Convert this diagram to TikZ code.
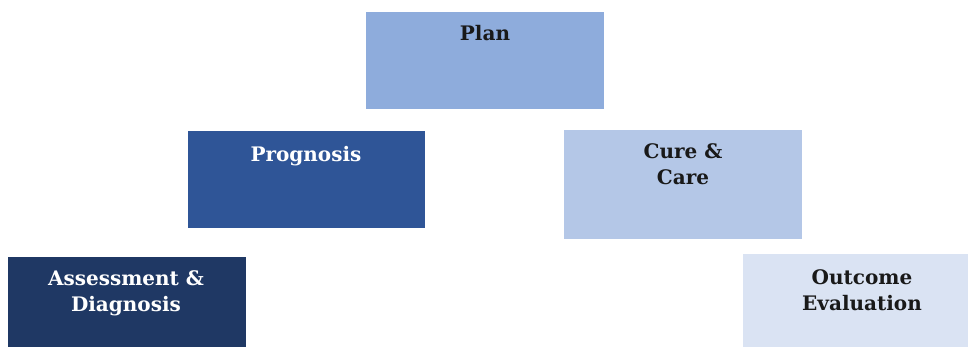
\documentclass[tikz,border=0pt]{standalone}
\usepackage{fontspec}
\setmainfont{DejaVu Serif}
\definecolor{cPlan}{HTML}{8EACDC}
\definecolor{cProg}{HTML}{2F5597}
\definecolor{cCure}{HTML}{B4C7E7}
\definecolor{cAss}{HTML}{1F3864}
\definecolor{cOut}{HTML}{DAE3F3}
\begin{document}
\begin{tikzpicture}[x=1pt,y=-1pt,
  box/.style={draw=none,rectangle,inner sep=0pt,anchor=north west},
  lbl/.style={font=\fontsize{20}{26}\selectfont\bfseries,align=center,anchor=base,inner sep=0pt}]
\useasboundingbox (0,0) rectangle (968,347);
\node[box,fill=cPlan,minimum width=238pt,minimum height=97pt] (plan) at (366,12) {};
\node[box,fill=cProg,minimum width=237pt,minimum height=97pt] (prog) at (188,131) {};
\node[box,fill=cCure,minimum width=238pt,minimum height=109pt] (cure) at (564,130) {};
\node[box,fill=cAss,minimum width=238pt,minimum height=91pt] (ass) at (8,257) {};
\node[box,fill=cOut,minimum width=226pt,minimum height=93pt] (out) at (743,254) {};
\node[lbl,text=black!90] (tplan) at (485,41) {Plan};
\node[lbl,text=white] (tprog) at (306,162) {Prognosis};
\node[lbl,text=black!90] (tcure1) at (683,159) {Cure \&};
\node[lbl,text=black!90] (tcure2) at (683,185) {Care};
\node[lbl,text=white] (tass1) at (126,285) {Assessment \&};
\node[lbl,text=white] (tass2) at (126,311) {Diagnosis};
\node[lbl,text=black!90] (tout1) at (862,284) {Outcome};
\node[lbl,text=black!90] (tout2) at (862,310) {Evaluation};
\end{tikzpicture}
\end{document}
